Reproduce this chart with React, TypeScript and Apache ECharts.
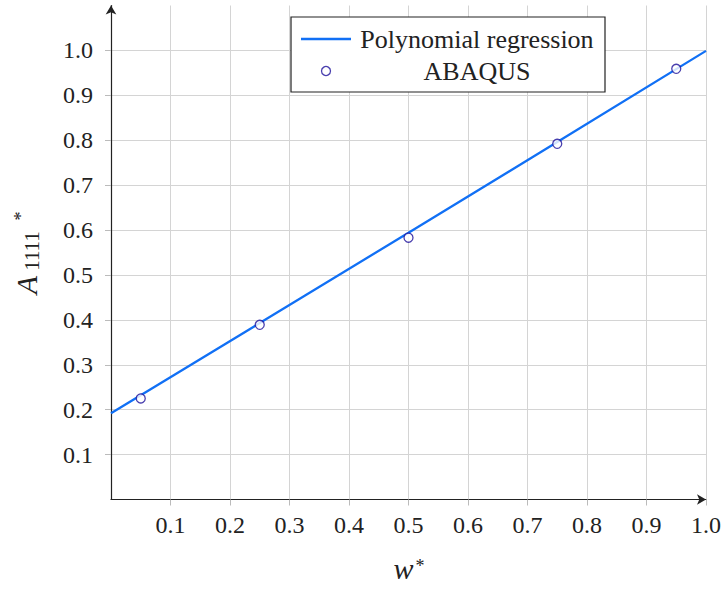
import React, { useEffect, useRef } from "react";
import * as echarts from "echarts";

const regressionX = [0, 0.25, 0.5, 0.75, 1.0];
const regressionY = [0.192, 0.393, 0.594, 0.796, 0.999];
const abaqusX = [0.05, 0.25, 0.5, 0.75, 0.95];
const abaqusY = [0.225, 0.389, 0.583, 0.792, 0.959];
const xTicks = [0.1, 0.2, 0.3, 0.4, 0.5, 0.6, 0.7, 0.8, 0.9, 1.0];
const yTicks = [0.1, 0.2, 0.3, 0.4, 0.5, 0.6, 0.7, 0.8, 0.9, 1.0];

const FONT = "Liberation Serif";

export default function App() {
  const ref = useRef<HTMLDivElement>(null);
  useEffect(() => {
    if (!ref.current) return;
    const chart = echarts.init(ref.current, undefined, { renderer: "svg" });
    const fmt = (v: number) => {
      const r = Math.round(v * 10) / 10;
      return xTicks.some((t) => Math.abs(t - r) < 1e-6) && Math.abs(v - r) < 1e-6 ? r.toFixed(1) : "";
    };
    const fmtY = (v: number) => {
      const r = Math.round(v * 10) / 10;
      return yTicks.some((t) => Math.abs(t - r) < 1e-6) ? r.toFixed(1) : "";
    };
    const txt = (text: string, x: number, y: number, size: number, italic: boolean) => ({
      type: "text",
      x,
      y,
      style: {
        text,
        fontFamily: FONT,
        fontSize: size,
        fontStyle: italic ? "italic" : "normal",
        fill: "#222",
        align: "center",
        verticalAlign: "middle",
      },
    });
    chart.setOption({
      animation: false,
      backgroundColor: "#fff",
      textStyle: { fontFamily: FONT },
      grid: { left: 111, top: 5.5, width: 595, height: 494 },
      xAxis: {
        type: "value",
        min: 0,
        max: 1.0,
        interval: 0.1,
        axisLine: {
          lineStyle: { color: "#222", width: 1.2 },
          symbol: ["none", "arrow"],
          symbolSize: [8, 9],
        },
        axisTick: { show: true, length: 6, lineStyle: { color: "#bbb" }, customValues: xTicks },
        axisLabel: { formatter: fmt, fontFamily: FONT, fontSize: 24, color: "#222", margin: 13 },
        splitLine: { show: true, lineStyle: { color: "#d4d4d4", width: 1 } },
      },
      yAxis: {
        type: "value",
        min: 0,
        max: 1.1,
        interval: 0.1,
        axisLine: {
          lineStyle: { color: "#222", width: 1.2 },
          symbol: ["none", "arrow"],
          symbolSize: [8, 9],
        },
        axisTick: { show: true, length: 6, lineStyle: { color: "#bbb" }, customValues: yTicks },
        axisLabel: { formatter: fmtY, fontFamily: FONT, fontSize: 24, color: "#222", margin: 18 },
        splitLine: { show: true, lineStyle: { color: "#d4d4d4", width: 1 } },
      },
      legend: {
        left: 291,
        top: 17,
        orient: "vertical",
        backgroundColor: "#fff",
        borderColor: "#222",
        borderWidth: 1.2,
        borderRadius: 0,
        padding: [9, 11, 8, 10],
        itemGap: 6,
        itemWidth: 50,
        itemHeight: 9,
        formatter: "{t|{name}}",
        textStyle: {
          fontFamily: FONT,
          rich: {
            t: {
              width: 234,
              align: "center",
              fontFamily: FONT,
              fontSize: 26,
              lineHeight: 26,
              color: "#222",
              padding: [0, 0, 0, 4],
            },
          },
        },
        data: [
          { name: "Polynomial regression", icon: "path://M0,0 L50,0 L50,2.3 L0,2.3 Z" },
          { name: "ABAQUS", itemStyle: { borderWidth: 1.3 } },
        ],
      },
      series: [
        {
          name: "Polynomial regression",
          type: "line",
          data: regressionX.map((x, i) => [x, regressionY[i]]),
          showSymbol: false,
          symbol: "none",
          lineStyle: { color: "#1170f5", width: 2.3 },
          itemStyle: { color: "#1170f5" },
          z: 2,
        },
        {
          name: "ABAQUS",
          type: "scatter",
          data: abaqusX.map((x, i) => [x, abaqusY[i]]),
          symbol: "circle",
          symbolSize: 9,
          itemStyle: { color: "#fff", borderColor: "#1c0f9a", borderWidth: 1.3 },
          z: 3,
        },
      ],
      graphic: [
        {
          type: "group",
          x: 26,
          y: 250,
          rotation: Math.PI / 2,
          children: [txt("A", -35, 0.8, 30, true), txt("1111", -1, 5.5, 21, false), txt("*", 34, -5.1, 18, false)],
        },
        txt("w", 403.5, 568, 30, true),
        txt("*", 420, 566, 18, false),
      ],
    });
    return () => chart.dispose();
  }, []);
  return <div ref={ref} style={{ width: 726, height: 590, position: "absolute", left: 0, top: 0 }} />;
}
